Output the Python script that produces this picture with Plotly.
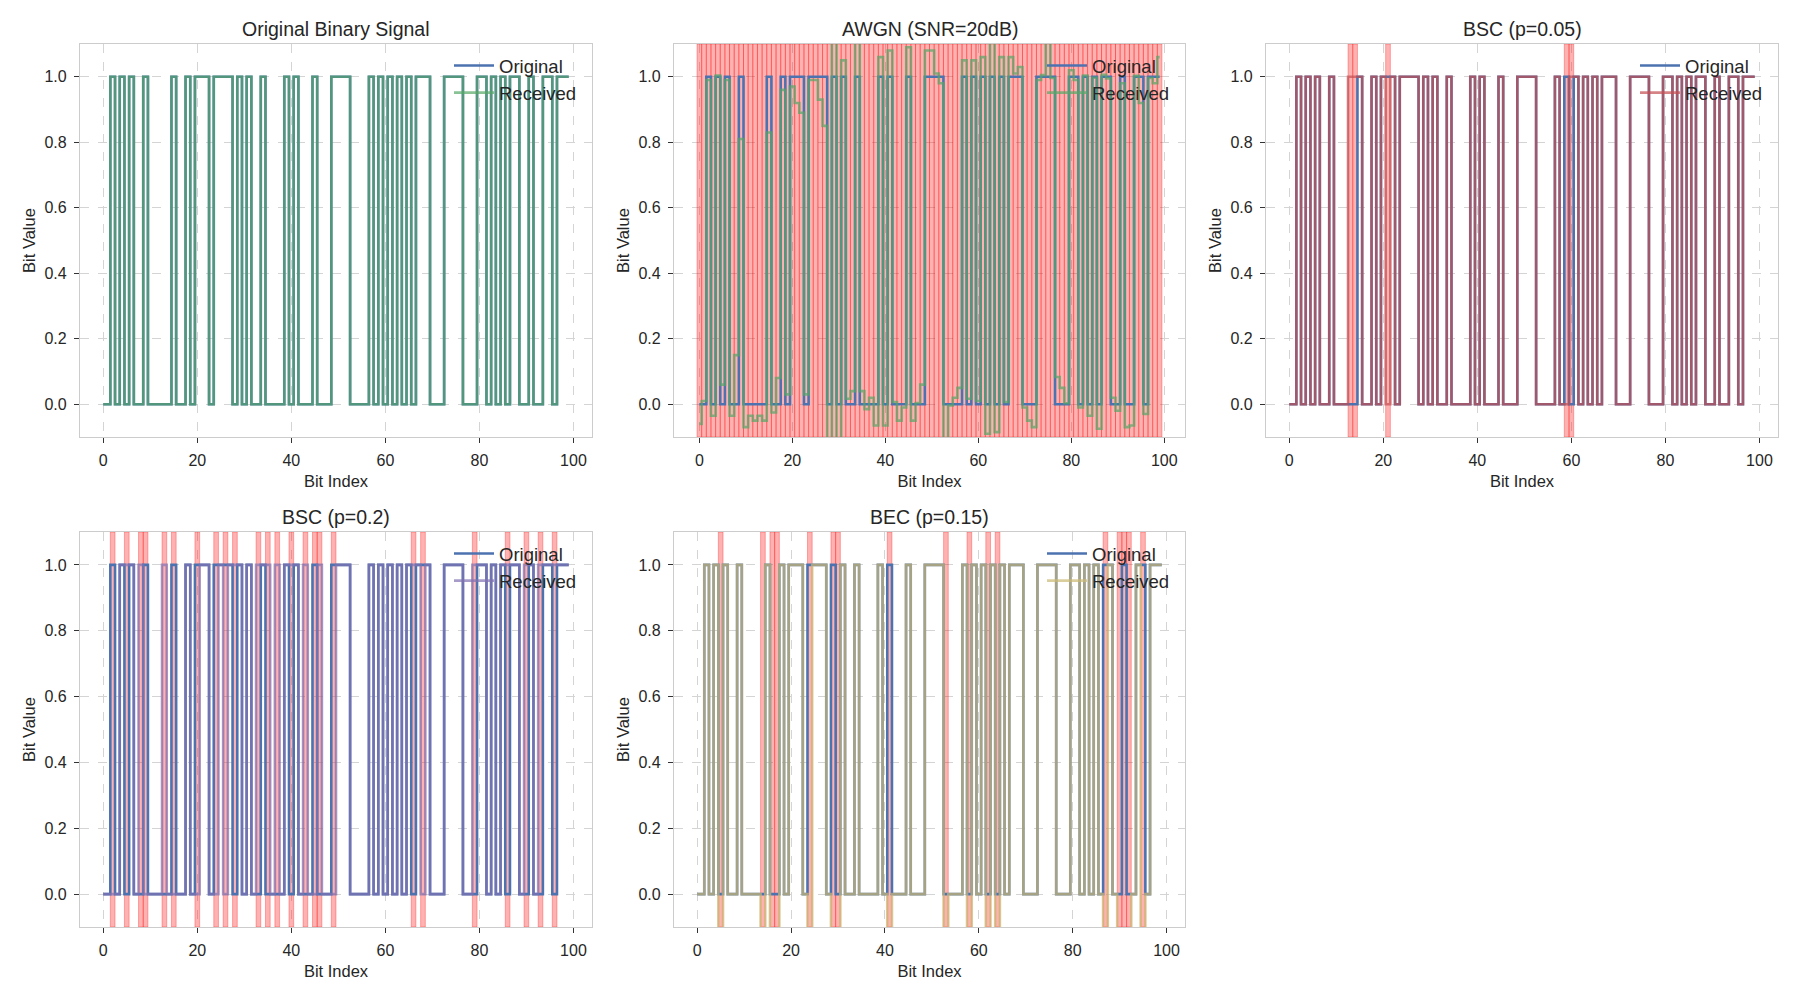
import plotly.graph_objects as go

# ---------------- data ----------------
bit_index = list(range(100))
original_bits = [0,0,1,0,1,0,1,0,0,1, 0,0,0,0,0,1,0,0,1,0,
                 1,1,1,0,1,1,1,1,0,1, 0,1,0,0,1,0,0,0,0,1,
                 0,1,0,0,0,1,0,0,0,1, 1,1,1,0,0,0,0,1,0,1,
                 0,1,0,1,0,1,0,1,1,1, 0,0,0,1,1,1,1,0,0,0,
                 1,1,0,1,0,1,0,1,1,0, 0,1,0,0,1,1,0,1,1,1]

awgn_received = [-0.06, 0.01, 0.99, -0.035, 1.004, 0.06, 0.99, -0.035, 0.15, 0.81,
                 -0.07, -0.035, -0.05, -0.035, -0.05, 0.83, -0.025, 0.08, 0.96, 0.03,
                 0.97, 0.92, 0.89, 0.03, 0.99, 0.99, 0.93, 0.85, -0.14, 1.14,
                 -0.13, 1.05, 0.017, 0.04, 1.13, 0.04, -0.015, 0.02, -0.065, 1.06,
                 -0.065, 1.08, 0.007, -0.05, -0.01, 1.09, -0.05, 0.004, 0.06, 1.08,
                 1.08, 1.01, 0.98, -0.12, -0.004, 0.02, 0.05, 1.05, 0.017, 1.05,
                 0.01, 1.06, -0.09, 1.12, -0.085, 1.06, 0.007, 1.06, 1.01, 1.03,
                 -0.01, -0.05, -0.07, 0.99, 1.005, 1.13, 0.996, 0.083, 0.05, 0.003,
                 1.02, 0.99, -0.01, 1.004, -0.035, 0.997, -0.075, 1.006, 0.995, 0.02,
                 -0.02, 0.98, -0.07, -0.065, 1.003, 0.92, -0.03, 0.996, 0.98, 1.06]

bsc05_error_idx = [13, 14, 21, 59, 60]
bsc20_error_idx = [2, 5, 8, 9, 13, 15, 20, 24, 26, 28, 33, 35, 37, 40, 43, 45, 46,
                   49, 66, 68, 79, 86, 90, 93, 96]
bec_erasure_idx = [5, 14, 16, 17, 24, 29, 30, 41, 53, 58, 62, 64, 87, 90, 91, 92, 95]
ERASED = -1

titles = ["Original Binary Signal", "AWGN (SNR=20dB)", "BSC (p=0.05)",
          "BSC (p=0.2)", "BEC (p=0.15)"]
suptitle = "Bit Stream Transmission Over Noisy Channels (100 bits)"
received_colors = ["#55A868", "#55A868", "#C44E52", "#8172B2", "#CCB974"]
x_ticks = [0, 20, 40, 60, 80, 100]
y_ticks = [0.0, 0.2, 0.4, 0.6, 0.8, 1.0]

# received signals built from the read-off error positions
bsc05_received = [1 - b if i in bsc05_error_idx else b for i, b in enumerate(original_bits)]
bsc20_received = [1 - b if i in bsc20_error_idx else b for i, b in enumerate(original_bits)]
bec_received = [ERASED if i in bec_erasure_idx else b for i, b in enumerate(original_bits)]
awgn_diff_idx = [i for i in bit_index if awgn_received[i] != original_bits[i]]

panels = [
    dict(received=original_bits, errors=[]),
    dict(received=awgn_received, errors=awgn_diff_idx),
    dict(received=bsc05_received, errors=bsc05_error_idx),
    dict(received=bsc20_received, errors=bsc20_error_idx),
    dict(received=bec_received, errors=bec_erasure_idx),
]

# ---------------- layout geometry ----------------
W, H = 1800, 1000
col_px = [(80, 592), (674, 1185), (1266, 1778)]
row_px = [(44, 437), (532, 927)]
cells = [(0, 0), (0, 1), (0, 2), (1, 0), (1, 1)]

FONT = "Liberation Sans, Arial, sans-serif"
TXT = "#262626"

fig = go.Figure()
layout = dict(
    width=W, height=H, margin=dict(l=0, r=0, t=0, b=0),
    paper_bgcolor="white", plot_bgcolor="white",
    font=dict(family=FONT, color=TXT, size=16),
    showlegend=True, annotations=[],
)

for k, (p, (r, c)) in enumerate(zip(panels, cells)):
    n = k + 1
    xa = "x" if n == 1 else f"x{n}"
    ya = "y" if n == 1 else f"y{n}"
    lg = "legend" if n == 1 else f"legend{n}"
    x0p, x1p = col_px[c]
    y0p, y1p = row_px[r]
    xd = [x0p / W, x1p / W]
    yd = [1 - y1p / H, 1 - y0p / H]

    # error highlight spans (one unit wide, full height)
    if p["errors"]:
        fig.add_trace(go.Bar(
            x=p["errors"], y=[1.2] * len(p["errors"]), base=-0.1, width=1.0,
            marker=dict(color="rgba(255,0,0,0.3)",
                        line=dict(color="rgba(255,0,0,0.3)", width=1)),
            xaxis=xa, yaxis=ya, showlegend=False, hoverinfo="skip"))

    fig.add_trace(go.Scatter(
        x=bit_index, y=original_bits, mode="lines", name="Original",
        line=dict(color="#4C72B0", width=2.6, shape="hvh"),
        xaxis=xa, yaxis=ya, legend=lg))
    fig.add_trace(go.Scatter(
        x=bit_index, y=p["received"], mode="lines", name="Received",
        line=dict(color=received_colors[k], width=2.6, shape="hvh"),
        opacity=0.7, xaxis=xa, yaxis=ya, legend=lg))

    xrange = [-5.45, 104.45] if k == 1 else [-4.95, 103.95]
    axis_common = dict(
        showgrid=True, gridcolor="#d4d4d4", griddash="dash", gridwidth=1,
        showline=True, linecolor="#cccccc", linewidth=1.3, mirror=True,
        ticks="outside", ticklen=5, tickwidth=1.3, tickcolor="#333333",
        ticklabelstandoff=4,
        zeroline=False, tickfont=dict(size=16, color=TXT, family=FONT),
    )
    layout["xaxis" if n == 1 else f"xaxis{n}"] = dict(
        axis_common, domain=xd, anchor=ya, range=xrange,
        tickvals=x_ticks, ticktext=[str(v) for v in x_ticks],
        title=dict(text="Bit Index", font=dict(size=16.5, color=TXT), standoff=7))
    layout["yaxis" if n == 1 else f"yaxis{n}"] = dict(
        axis_common, domain=yd, anchor=xa, range=[-0.1, 1.1],
        tickvals=y_ticks, ticktext=[f"{v:.1f}" for v in y_ticks],
        title=dict(text="Bit Value", font=dict(size=16.5, color=TXT), standoff=4))
    layout[lg] = dict(
        x=(x1p - 10) / W, y=1 - (y0p + 3) / H, xanchor="right", yanchor="top",
        xref="paper", yref="paper", bgcolor="rgba(0,0,0,0)",
        font=dict(size=18.5, color=TXT, family=FONT), tracegroupgap=0,
        itemwidth=40)
    layout["annotations"].append(dict(
        text=titles[k], x=(x0p + x1p) / 2 / W, y=1 - (y0p - 15) / H,
        xref="paper", yref="paper", xanchor="center", yanchor="middle",
        showarrow=False, font=dict(size=19.5, color=TXT, family=FONT)))

# figure title sits above the page edge, only its descenders peek in
layout["annotations"].append(dict(
    text=suptitle, x=0.5, y=1 + 6 / H,
    xref="paper", yref="paper", xanchor="center", yanchor="bottom",
    showarrow=False, font=dict(size=22, color=TXT, family=FONT)))

fig.update_layout(**layout)
fig.write_html("out.html")
